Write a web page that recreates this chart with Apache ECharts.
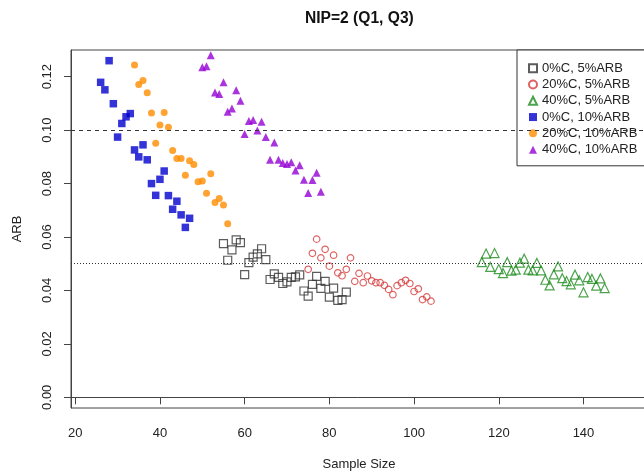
<!DOCTYPE html>
<html>
<head>
<meta charset="utf-8">
<title>NIP=2 (Q1, Q3)</title>
<script src="https://cdn.jsdelivr.net/npm/echarts@6/dist/echarts.min.js"></script>
<style>
  html, body { margin: 0; padding: 0; background: #fff; }
  #chart { width: 644px; height: 474px; }
</style>
</head>
<body>
<div id="chart"></div>
<script>
// tick labels
const xTicks = [20, 40, 60, 80, 100, 120, 140];
const yTicks = [0, 0.02, 0.04, 0.06, 0.08, 0.10, 0.12];

// 0%C, 5%ARB
const n0c5 = [55, 56, 57, 58, 59, 60, 61, 62, 63, 64, 65, 66, 67, 68, 69, 70, 71, 72, 73, 74, 75, 76, 77, 78, 79, 80, 81, 82, 83, 84];
const arb0c5 = [0.0575, 0.0513, 0.0552, 0.0589, 0.0579, 0.0459, 0.0504, 0.0525, 0.0537, 0.0556, 0.0515, 0.0441, 0.0462, 0.0449, 0.0426,
  0.0432, 0.0449, 0.0451, 0.0458, 0.0398, 0.0379, 0.0423, 0.0453, 0.0408, 0.0434, 0.0375, 0.0409, 0.0363, 0.0366, 0.0394];

// 20%C, 5%ARB
const n20c5 = [75, 76, 77, 78, 79, 80, 81, 82, 83, 84, 85, 86, 87, 88, 89, 90, 91, 92, 93, 94, 95, 96, 97, 98, 99, 100, 101, 102, 103, 104];
const arb20c5 = [0.0479, 0.0539, 0.0592, 0.0522, 0.0554, 0.0491, 0.0532, 0.0466, 0.0455, 0.0479, 0.0522, 0.0434, 0.0464, 0.0429, 0.0454,
  0.0436, 0.0429, 0.0429, 0.0419, 0.0404, 0.0384, 0.0418, 0.0429, 0.0438, 0.0426, 0.0396, 0.0406, 0.0366, 0.0376, 0.0360];

// 40%C, 5%ARB
const n40c5 = [116, 117, 118, 119, 120, 121, 122, 123, 124, 125, 126, 127, 128, 129, 130, 131, 132, 133, 134, 135, 136, 137, 138, 139, 140, 141, 142, 143, 144, 145];
const arb40c5 = [0.0506, 0.0538, 0.0488, 0.0540, 0.0480, 0.0465, 0.0506, 0.0474, 0.0478, 0.0504, 0.0519, 0.0478, 0.0475, 0.0503, 0.0475,
  0.0440, 0.0419, 0.0460, 0.0490, 0.0446, 0.0435, 0.0423, 0.0459, 0.0438, 0.0393, 0.0450, 0.0443, 0.0418, 0.0445, 0.0409];

// 0%C, 10%ARB
const n0c10 = [26, 27, 28, 29, 30, 31, 32, 33, 34, 35, 36, 37, 38, 39, 40, 41, 42, 43, 44, 45, 46, 47];
const arb0c10 = [0.1179, 0.1151, 0.1260, 0.1099, 0.0974, 0.1025, 0.1050, 0.1062, 0.0926, 0.0900, 0.0945, 0.0889, 0.0800, 0.0756, 0.0816,
  0.0847, 0.0755, 0.0704, 0.0734, 0.0683, 0.0636, 0.0670];

// 20%C, 10%ARB
const n20c10 = [34, 35, 36, 37, 38, 39, 40, 41, 42, 43, 44, 45, 46, 47, 48, 49, 50, 51, 52, 53, 54, 55, 56];
const arb20c10 = [0.1244, 0.1171, 0.1186, 0.1140, 0.1064, 0.0951, 0.1019, 0.1066, 0.1011, 0.0924, 0.0894, 0.0894, 0.0831, 0.0885, 0.0871,
  0.0807, 0.0810, 0.0764, 0.0837, 0.0729, 0.0744, 0.0720, 0.0650];

// 40%C, 10%ARB
const n40c10 = [50, 51, 52, 53, 54, 55, 56, 57, 58, 59, 60, 61, 62, 63, 64, 65, 66, 67, 68, 69, 70, 71, 72, 73, 74, 75, 76, 77, 78];
const arb40c10 = [0.1235, 0.1239, 0.1280, 0.1141, 0.1135, 0.1179, 0.1069, 0.1081, 0.1149, 0.1110, 0.0986, 0.1034, 0.1038, 0.0999, 0.1031,
  0.0974, 0.0889, 0.0954, 0.0889, 0.0877, 0.0873, 0.0880, 0.0849, 0.0869, 0.0814, 0.0765, 0.0813, 0.0841, 0.0769];

const zip = (xs, ys) => xs.map((x, i) => [x, ys[i]]);
const font = 'Liberation Sans, Arial, sans-serif';
const hollow = 'rgba(0,0,0,0)';

const chart = echarts.init(document.getElementById('chart'), null, { renderer: 'canvas' });

chart.setOption({
  animation: false,
  backgroundColor: '#fff',
  title: {
    text: 'NIP=2 (Q1, Q3)',
    left: 305,
    top: 11,
    padding: 0,
    textStyle: { fontFamily: font, fontSize: 15.6, fontWeight: 'bold', color: '#111' }
  },
  grid: {
    left: 71, top: 50, width: 576, bottom: 66,
    outerBoundsMode: 'none',
    containLabel: false,
    show: true, borderColor: '#444', borderWidth: 1, backgroundColor: 'transparent'
  },
  legend: {
    orient: 'vertical',
    left: 517, top: 50,
    padding: [10, 24, 8, 11],
    itemGap: 0,
    itemWidth: 8, itemHeight: 8,
    backgroundColor: '#fff',
    borderColor: '#333', borderWidth: 1, borderRadius: 0,
    textStyle: { fontFamily: font, fontSize: 13, color: '#222', lineHeight: 16.3 },
    data: ['0%C, 5%ARB', '20%C, 5%ARB', '40%C, 5%ARB', '0%C, 10%ARB', '20%C, 10%ARB', '40%C, 10%ARB']
  },
  xAxis: {
    type: 'value',
    min: 19, max: 155,
    name: 'Sample Size',
    nameLocation: 'middle',
    nameGap: 50,
    nameTextStyle: { fontFamily: font, fontSize: 13, color: '#222' },
    axisLine: { show: true, lineStyle: { color: '#444' } },
    axisTick: { show: true, length: 7, customValues: xTicks, lineStyle: { color: '#444' } },
    axisLabel: { customValues: xTicks, margin: 19, fontFamily: font, fontSize: 13, color: '#222' },
    splitLine: { show: false }
  },
  yAxis: {
    type: 'value',
    min: -0.004, max: 0.130,
    name: 'ARB',
    nameLocation: 'middle',
    nameGap: 47,
    nameTextStyle: { fontFamily: font, fontSize: 13, color: '#222' },
    axisLine: { show: true, lineStyle: { color: '#444' } },
    axisTick: { show: true, length: 7, customValues: yTicks, lineStyle: { color: '#444' } },
    axisLabel: {
      customValues: yTicks, rotate: 90, margin: 17,
      fontFamily: font, fontSize: 13, color: '#222',
      formatter: v => v.toFixed(2)
    },
    splitLine: { show: false }
  },
  series: [
    {
      name: '0%C, 5%ARB', type: 'scatter', symbol: 'rect', symbolSize: 8,
      itemStyle: { color: hollow, borderColor: '#333', borderWidth: 1.2 },
      data: zip(n0c5, arb0c5),
      markLine: {
        silent: true, symbol: ['none', 'none'], label: { show: false },
        data: [
          { yAxis: 0.10, lineStyle: { color: '#333', width: 1, type: [4, 4] } },
          { yAxis: 0.05, lineStyle: { color: '#333', width: 1, type: [1, 2] } }
        ]
      }
    },
    {
      name: '20%C, 5%ARB', type: 'scatter', symbol: 'circle', symbolSize: 6.5,
      itemStyle: { color: hollow, borderColor: '#d63b3b', borderWidth: 1.2 },
      data: zip(n20c5, arb20c5)
    },
    {
      name: '40%C, 5%ARB', type: 'scatter', symbol: 'triangle', symbolSize: 9,
      itemStyle: { color: hollow, borderColor: '#1e8c1e', borderWidth: 1.2 },
      data: zip(n40c5, arb40c5)
    },
    {
      name: '0%C, 10%ARB', type: 'scatter', symbol: 'rect', symbolSize: 7.5,
      itemStyle: { color: '#0000cd' },
      data: zip(n0c10, arb0c10)
    },
    {
      name: '20%C, 10%ARB', type: 'scatter', symbol: 'circle', symbolSize: 7,
      itemStyle: { color: '#ff8c00' },
      data: zip(n20c10, arb20c10)
    },
    {
      name: '40%C, 10%ARB', type: 'scatter', symbol: 'triangle', symbolSize: 8,
      itemStyle: { color: '#9400d3' },
      data: zip(n40c10, arb40c10)
    }
  ]
});
</script>
</body>
</html>
